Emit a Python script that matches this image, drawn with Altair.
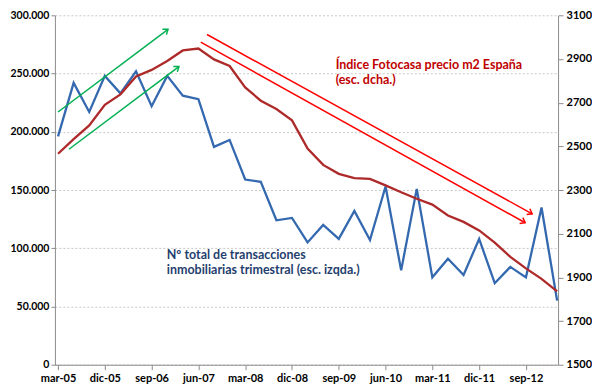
import math
import json
import altair as alt
import pandas as pd

# ---------------- data ----------------
quarters = ['mar-05','jun-05','sep-05','dic-05','mar-06','jun-06','sep-06','dic-06',
            'mar-07','jun-07','sep-07','dic-07','mar-08','jun-08','sep-08','dic-08',
            'mar-09','jun-09','sep-09','dic-09','mar-10','jun-10','sep-10','dic-10',
            'mar-11','jun-11','sep-11','dic-11','mar-12','jun-12','sep-12','dic-12',
            'mar-13']
transactions = [196000, 242000, 217000, 248000, 233000, 252000, 222000, 248000,
                231000, 228000, 187000, 193000, 159000, 157000, 124000, 126000,
                105000, 120000, 108000, 132000, 107000, 153000, 81000, 151000,
                75000, 91000, 77000, 108000, 70000, 84000, 75000, 135000, 55000]
price_m2 = [2466, 2533, 2596, 2690, 2738, 2820, 2850, 2891,
            2939, 2948, 2898, 2868, 2770, 2709, 2671, 2619,
            2490, 2415, 2374, 2354, 2351, 2321, 2290, 2260,
            2233, 2183, 2154, 2115, 2059, 1994, 1941, 1893, 1836]

tick_idx = [0, 3, 6, 9, 12, 15, 18, 21, 24, 27, 30]
left_ticks = [0, 50000, 100000, 150000, 200000, 250000, 300000]
right_ticks = [1500, 1700, 1900, 2100, 2300, 2500, 2700, 2900, 3100]

# annotation arrows (data units: quarter index, axis value)
green_x1 = [0.0, 0.7]
green_y1 = [217000, 185000]
green_x2 = [7.05, 7.75]
green_y2 = [288000, 256000]
red_x1 = [9.55, 9.15]
red_y1 = [3012, 2977]
red_x2 = [30.4, 29.95]
red_y2 = [2191, 2150]

blue_text = ['Nº total de transacciones', 'inmobiliarias trimestral (esc. izqda.)']
blue_text_x = [6.97, 6.97]
blue_text_y = [94500, 81600]
red_text = ['Índice Fotocasa precio m2 España', '(esc. dcha.)']
red_text_x = [17.8, 17.8]
red_text_y = [2871, 2805]

# ---------------- layout ----------------
W, H = 504, 350
XDOM = [-0.2, 32.06]
LDOM = [0, 300000]
RDOM = [1500, 3100]
FONT = 'Lato'
AX_FS = 10.5
TXT_FS = 12.5

df = pd.DataFrame({'i': list(range(len(quarters))), 'q': quarters,
                   'trans': transactions, 'price': price_m2})

xs = alt.Scale(domain=XDOM, nice=False, zero=False)
yl = alt.Scale(domain=LDOM, nice=False)
yr = alt.Scale(domain=RDOM, nice=False, zero=False)

label_expr = json.dumps(quarters, ensure_ascii=False) + '[datum.value]'

x_axis = alt.Axis(values=tick_idx, labelExpr=label_expr, title=None, grid=False,
                  domainColor='#8c8c8c', tickColor='#8c8c8c', tickSize=5,
                  labelFont=FONT, labelFontWeight='bold', labelFontSize=AX_FS + 0.5,
                  labelColor='#000000', labelPadding=3)
yl_axis = alt.Axis(values=left_ticks, title=None, orient='left',
                   labelExpr="replace(format(datum.value, ','), ',', '.')",
                   grid=True, gridColor='#c8c8c8', gridDash=[2, 2], gridWidth=1,
                   domainColor='#8c8c8c', tickColor='#8c8c8c', tickSize=4,
                   labelFont=FONT, labelFontWeight='bold', labelFontSize=AX_FS,
                   labelColor='#000000', labelPadding=2)
yr_axis = alt.Axis(values=right_ticks, title=None, orient='right', format='d', grid=False,
                   domainColor='#8c8c8c', tickColor='#8c8c8c', tickSize=5,
                   labelFont=FONT, labelFontWeight='bold', labelFontSize=AX_FS + 0.5,
                   labelColor='#000000', labelPadding=3)

def angles(x1, y1, x2, y2, dom):
    pxx = W / (XDOM[1] - XDOM[0])
    pxy = H / (dom[1] - dom[0])
    out = []
    for a, b, c, d in zip(x1, y1, x2, y2):
        dx = (c - a) * pxx
        dy = -(d - b) * pxy
        out.append(math.degrees(math.atan2(dy, dx)) % 360)
    return out

green_df = pd.DataFrame({'x1': green_x1, 'y1': green_y1, 'x2': green_x2, 'y2': green_y2,
                         'ang': angles(green_x1, green_y1, green_x2, green_y2, LDOM)})
red_df = pd.DataFrame({'x1': red_x1, 'y1': red_y1, 'x2': red_x2, 'y2': red_y2,
                       'ang': angles(red_x1, red_y1, red_x2, red_y2, RDOM)})

HEAD = 'M-1,-0.75L0,0L-1,0.75'

# ---------------- left group ----------------
blue_line = alt.Chart(df).mark_line(color='#3469B0', strokeWidth=2.3).encode(
    x=alt.X('i:Q', scale=xs, axis=x_axis),
    y=alt.Y('trans:Q', scale=yl, axis=yl_axis),
)

green_lines = alt.Chart(green_df).mark_rule(color='#00B050', strokeWidth=1.5).encode(
    x=alt.X('x1:Q', scale=xs, axis=x_axis), y=alt.Y('y1:Q', scale=yl, axis=yl_axis),
    x2='x2:Q', y2='y2:Q')
green_heads = alt.Chart(green_df).mark_point(
    shape=HEAD, size=80, filled=False, color='#00B050', strokeWidth=1.5, opacity=1).encode(
    x=alt.X('x2:Q', scale=xs, axis=x_axis), y=alt.Y('y2:Q', scale=yl, axis=yl_axis),
    angle=alt.Angle('ang:Q', scale=None))

blue_df = pd.DataFrame({'t': blue_text, 'x': blue_text_x, 'y': blue_text_y})
blue_txt = alt.Chart(blue_df).mark_text(
    align='left', baseline='middle', font=FONT, fontWeight='bold', fontSize=TXT_FS,
    color='#1F3F6E').encode(
    x=alt.X('x:Q', scale=xs, axis=x_axis), y=alt.Y('y:Q', scale=yl, axis=yl_axis), text='t:N')

left = alt.layer(blue_line, green_lines, green_heads, blue_txt)

# ---------------- right group ----------------
red_line = alt.Chart(df).mark_line(color='#AE2A2A', strokeWidth=2.3).encode(
    x=alt.X('i:Q', scale=xs, axis=x_axis),
    y=alt.Y('price:Q', scale=yr, axis=yr_axis),
)

red_lines = alt.Chart(red_df).mark_rule(color='#FF0000', strokeWidth=1.5).encode(
    x=alt.X('x1:Q', scale=xs, axis=x_axis), y=alt.Y('y1:Q', scale=yr, axis=yr_axis),
    x2='x2:Q', y2='y2:Q')
red_heads = alt.Chart(red_df).mark_point(
    shape=HEAD, size=80, filled=False, color='#FF0000', strokeWidth=1.5, opacity=1).encode(
    x=alt.X('x2:Q', scale=xs, axis=x_axis), y=alt.Y('y2:Q', scale=yr, axis=yr_axis),
    angle=alt.Angle('ang:Q', scale=None))

red_df_t = pd.DataFrame({'t': red_text, 'x': red_text_x, 'y': red_text_y})
red_txt = alt.Chart(red_df_t).mark_text(
    align='left', baseline='middle', font=FONT, fontWeight='bold', fontSize=TXT_FS,
    color='#C00000').encode(
    x=alt.X('x:Q', scale=xs, axis=x_axis), y=alt.Y('y:Q', scale=yr, axis=yr_axis), text='t:N')

right = alt.layer(red_line, red_lines, red_heads, red_txt)

chart = alt.layer(left, right).resolve_scale(y='independent').properties(
    width=W, height=H,
    autosize=alt.AutoSizeParams(type='none'),
    padding={'left': 47, 'top': 7, 'right': 34, 'bottom': 19},
    background='#ffffff',
).configure_view(stroke=None)

chart.save('out.html', embed_options={'renderer': 'svg', 'actions': False})
